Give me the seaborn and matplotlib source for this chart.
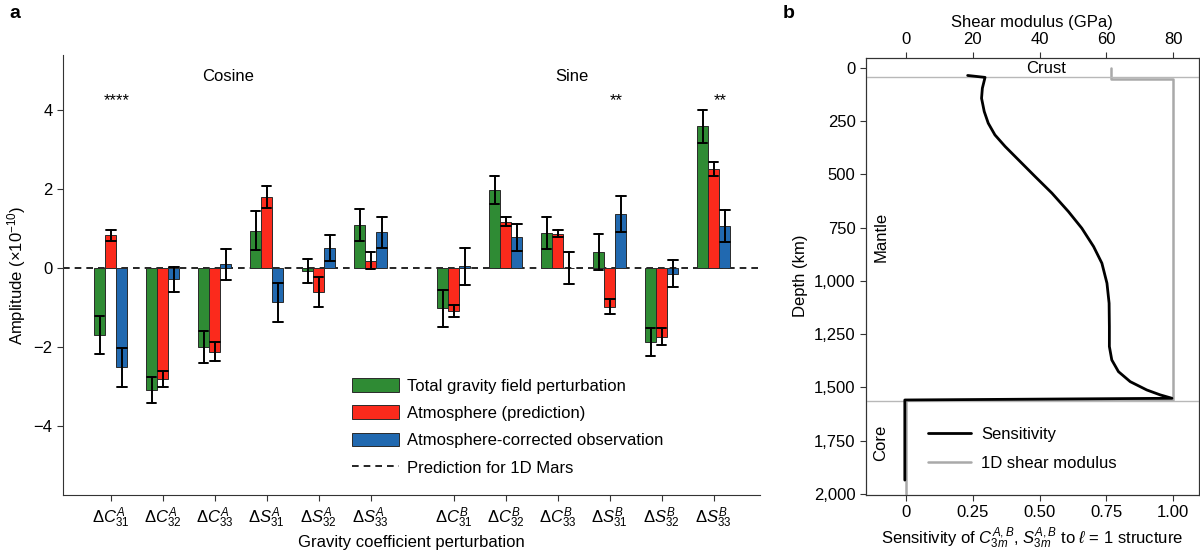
import numpy as np
import pandas as pd
import matplotlib
matplotlib.use("Agg")
import matplotlib.pyplot as plt
import seaborn as sns
from matplotlib.ticker import FuncFormatter

sns.set_style("ticks")
plt.rcParams["font.family"] = ["Liberation Sans", "DejaVu Sans"]
plt.rcParams["mathtext.fontset"] = "custom"
plt.rcParams["mathtext.rm"] = "Liberation Sans"
plt.rcParams["mathtext.it"] = "Liberation Sans:italic"
plt.rcParams["mathtext.bf"] = "Liberation Sans:bold"
plt.rcParams["font.size"] = 12
plt.rcParams["text.color"] = "black"
plt.rcParams["axes.labelcolor"] = "black"

# -----------------------------
# panel a data
# -----------------------------
coef_labels = [r"$\Delta C^{A}_{31}$", r"$\Delta C^{A}_{32}$", r"$\Delta C^{A}_{33}$",
               r"$\Delta S^{A}_{31}$", r"$\Delta S^{A}_{32}$", r"$\Delta S^{A}_{33}$",
               r"$\Delta C^{B}_{31}$", r"$\Delta C^{B}_{32}$", r"$\Delta C^{B}_{33}$",
               r"$\Delta S^{B}_{31}$", r"$\Delta S^{B}_{32}$", r"$\Delta S^{B}_{33}$"]
coef_pos = [0, 1, 2, 3, 4, 5, 6.6, 7.6, 8.6, 9.6, 10.6, 11.6]

series = ["Total gravity field perturbation", "Atmosphere (prediction)",
          "Atmosphere-corrected observation"]
series_colors = ["#2f8b34", "#fb2a1c", "#2169b0"]

total_vals = [-1.69, -3.08, -2.00, 0.95, -0.07, 1.10, -1.01, 1.98, 0.89, 0.41, -1.87, 3.59]
total_err = [0.49, 0.33, 0.40, 0.49, 0.31, 0.40, 0.47, 0.35, 0.41, 0.46, 0.35, 0.41]
atmo_vals = [0.84, -2.80, -2.11, 1.81, -0.59, 0.19, -1.08, 1.18, 0.88, -0.97, -1.73, 2.51]
atmo_err = [0.14, 0.20, 0.24, 0.28, 0.38, 0.22, 0.15, 0.11, 0.10, 0.18, 0.22, 0.17]
corr_vals = [-2.51, -0.28, 0.10, -0.86, 0.51, 0.91, 0.05, 0.78, 0.01, 1.38, -0.14, 1.07]
corr_err = [0.49, 0.32, 0.40, 0.49, 0.32, 0.40, 0.47, 0.35, 0.41, 0.46, 0.34, 0.41]

star_pos = [0, 9.6, 11.6]
star_text = ["****", "**", "**"]

# -----------------------------
# panel b data
# -----------------------------
sens_depth = [36, 45, 96, 143, 205, 260, 315, 369, 432, 510, 588, 675, 753, 839, 917,
              1011, 1105, 1214, 1308, 1371, 1426, 1473, 1512, 1535, 1551, 1559, 1935]
sens_vals = [0.231, 0.296, 0.286, 0.283, 0.293, 0.308, 0.333, 0.371, 0.421, 0.483,
             0.546, 0.608, 0.658, 0.702, 0.733, 0.752, 0.760, 0.761, 0.761, 0.770,
             0.795, 0.839, 0.901, 0.951, 0.995, -0.004, -0.004]

shear_depth = [0, 51, 51, 1560, 1560, 2000]
shear_gpa = [61.5, 61.5, 80.0, 80.0, 0.0, 0.0]

crust_depth = 44
cmb_depth = 1565

# long table: two observations per bar so the interval = value +/- err
rows = []
for name, vals, errs in zip(series, [total_vals, atmo_vals, corr_vals],
                            [total_err, atmo_err, corr_err]):
    for p, v, e in zip(coef_pos, vals, errs):
        rows.append({"pos": p, "series": name, "amp": v - e})
        rows.append({"pos": p, "series": name, "amp": v + e})
df = pd.DataFrame(rows)

fig = plt.figure(figsize=(12, 5.6), dpi=100)

# -----------------------------
# panel a
# -----------------------------
ax = fig.add_axes([0.0525, 0.1161, 0.5808, 0.7857])
sns.barplot(data=df, x="pos", y="amp", hue="series", hue_order=series,
            palette=series_colors, native_scale=True, width=0.64,
            errorbar=lambda v: (v.min(), v.max()), capsize=0.55,
            err_kws={"color": "black", "linewidth": 1.4},
            edgecolor="#2a2a2a", linewidth=0.7, saturation=1, ax=ax)
zero_line = ax.axhline(0, color="black", lw=1.2, ls=(0, (4, 3)), zorder=0.5,
                       label="Prediction for 1D Mars")

ax.set_xlim(-0.92, 12.49)
ax.set_ylim(-5.74, 5.40)
ax.set_xticks(coef_pos)
ax.set_xticklabels(coef_labels, fontsize=12)
ax.set_yticks([-4, -2, 0, 2, 4])
ax.set_yticklabels(["\u22124", "\u22122", "0", "2", "4"])
ax.set_xlabel("Gravity coefficient perturbation", fontsize=12)
ax.set_ylabel(r"Amplitude ($\times$10$^{-10}$)", fontsize=12)
sns.despine(ax=ax)
for sp in ["left", "bottom"]:
    ax.spines[sp].set_color("#333333")
ax.tick_params(colors="#333333", labelcolor="black", length=4, width=0.8)

for p, t in zip(star_pos, star_text):
    ax.text(p + 0.12, 4.13, t, ha="center", va="baseline", fontsize=12)
ax.text(2.25, 4.74, "Cosine", ha="center", va="baseline", fontsize=12)
ax.text(8.88, 4.74, "Sine", ha="center", va="baseline", fontsize=12)

leg = ax.get_legend()
handles = list(leg.legend_handles) + [zero_line]
labels = series + ["Prediction for 1D Mars"]
ax.legend(handles, labels, loc="lower left", bbox_to_anchor=(0.393, 0.01),
          frameon=False, fontsize=12, handlelength=2.8, handleheight=0.9,
          labelspacing=0.7, handletextpad=0.5)

# -----------------------------
# panel b
# -----------------------------
axb = fig.add_axes([0.7217, 0.1168, 0.2772, 0.7804])
axt = axb.twiny()
axb.set_zorder(2)
axt.set_zorder(1)
axb.patch.set_visible(False)

axb.axhline(crust_depth, color="#b8b8b8", lw=1.0, zorder=1)
axb.axhline(cmb_depth, color="#b8b8b8", lw=1.0, zorder=1)
sns.lineplot(x=sens_vals, y=sens_depth, sort=False, estimator=None,
             color="black", lw=2.0, solid_joinstyle="round", ax=axb)
sns.lineplot(x=shear_gpa, y=shear_depth, sort=False, estimator=None,
             color="#a9a9a9", lw=1.8, ax=axt)

xlim_b = (-0.149, 1.095)
axb.set_xlim(*xlim_b)
axt.set_xlim(xlim_b[0] * 80, xlim_b[1] * 80)
axb.set_ylim(2003, -48)

axb.set_xticks([0, 0.25, 0.5, 0.75, 1.0])
axb.set_xticklabels(["0", "0.25", "0.50", "0.75", "1.00"])
axt.set_xticks([0, 20, 40, 60, 80])
axb.set_yticks([0, 250, 500, 750, 1000, 1250, 1500, 1750, 2000])
axb.yaxis.set_major_formatter(FuncFormatter(lambda v, p: f"{int(v):,}"))

axb.set_xlabel(r"Sensitivity of $C^{A,B}_{3m}$, $S^{A,B}_{3m}$ to $\ell$ = 1 structure",
               fontsize=12)
axb.set_ylabel("Depth (km)", fontsize=12)
axt.set_xlabel("Shear modulus (GPa)", fontsize=12)

for a in [axb, axt]:
    for sp in a.spines.values():
        sp.set_color("#333333")
        sp.set_linewidth(0.8)
    a.tick_params(colors="#333333", labelcolor="black", length=4, width=0.8)

axb.text(0.523, 26, "Crust", ha="center", va="baseline", fontsize=12)
axb.text(-0.094, 793, "Mantle", ha="center", va="center", rotation=90, fontsize=12)
axb.text(-0.094, 1758, "Core", ha="center", va="center", rotation=90, fontsize=12)

axb.legend([axb.lines[-1], axt.lines[-1]], ["Sensitivity", "1D shear modulus"],
           loc="lower left", bbox_to_anchor=(0.14, 0.02), frameon=False,
           fontsize=12, handlelength=2.6, labelspacing=0.85, handletextpad=0.6)

fig.text(0.008, 0.975, "a", fontsize=14, fontweight="bold", va="center")
fig.text(0.652, 0.975, "b", fontsize=14, fontweight="bold", va="center")

fig.savefig("out.png", dpi=100)
